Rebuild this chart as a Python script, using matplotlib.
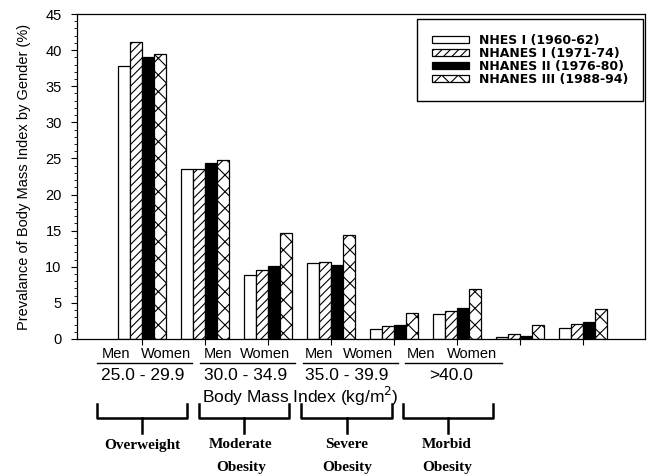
import numpy as np
import matplotlib
matplotlib.use("Agg")
import matplotlib.pyplot as plt
from matplotlib.lines import Line2D

# ---- data ----
genders = ["Men", "Women", "Men", "Women", "Men", "Women", "Men", "Women"]
bmi_ranges = ["25.0 - 29.9", "30.0 - 34.9", "35.0 - 39.9", ">40.0"]
categories = [("Overweight", ""), ("Moderate", "Obesity"), ("Severe", "Obesity"), ("Morbid", "Obesity")]
surveys = ["NHES I (1960-62)", "NHANES I (1971-74)", "NHANES II (1976-80)", "NHANES III (1988-94)"]
nhes1   = [37.8, 23.6,  8.8, 10.5, 1.4, 3.5, 0.3, 1.5]
nhanes1 = [41.1, 23.6,  9.6, 10.6, 1.8, 3.9, 0.7, 2.1]
nhanes2 = [39.1, 24.4, 10.1, 10.2, 2.0, 4.3, 0.4, 2.3]
nhanes3 = [39.5, 24.8, 14.7, 14.4, 3.6, 6.9, 1.9, 4.2]

W, H = 649, 475
plt.rcParams["font.family"] = ["Liberation Sans", "DejaVu Sans"]
plt.rcParams["hatch.linewidth"] = 0.8
fig = plt.figure(figsize=(W / 100, H / 100), dpi=100)
ax = fig.add_axes([77 / W, 1 - 339 / H, (645 - 77) / W, (339 - 14) / H])

x = np.arange(len(genders))
bw = 0.19
styles = [dict(color="white", hatch=None), dict(color="white", hatch="////"),
          dict(color="black", hatch=None), dict(color="white", hatch="xx")]
for i, (vals, st) in enumerate(zip([nhes1, nhanes1, nhanes2, nhanes3], styles)):
    ax.bar(x + (i - 1.5) * bw, vals, bw, facecolor=st["color"], hatch=st["hatch"],
           edgecolor="black", linewidth=0.9, label=surveys[i])

ax.set_xlim(-1.03, 7.98)
ax.set_ylim(0, 45)
ax.set_yticks(range(0, 46, 5))
ax.set_yticks(range(0, 46, 1), minor=True)
ax.set_xticks(x)
ax.set_xticklabels([])
ax.tick_params(axis="y", which="major", direction="out", length=4, labelsize=10.5, pad=7)
ax.tick_params(axis="y", which="minor", direction="out", length=2)
ax.tick_params(axis="x", direction="out", length=4)
for s in ax.spines.values():
    s.set_linewidth(0.9)
ax.set_ylabel("Prevalance of Body Mass Index by Gender (%)", fontsize=10.5, labelpad=10)

leg = ax.legend(loc="upper right", bbox_to_anchor=(0.9965, 0.985), borderaxespad=0,
                fancybox=False, edgecolor="black", framealpha=1, handlelength=3.0,
                handleheight=0.45, labelspacing=0.0, borderpad=1.2, handletextpad=0.75,
                prop={"family": "DejaVu Sans", "weight": "bold", "size": 9})
leg.get_frame().set_linewidth(1.0)

# ---- table of labels under the axis (figure pixel layout) ----
fx = lambda px: px / W
fy = lambda py: 1 - py / H
tf = fig.transFigure

men_c = [116, 218, 319, 421]
women_c = [166, 265, 368, 472]
line_span = [(97, 192), (200, 295), (303, 398), (405, 502)]
range_c = [143, 246, 347, 451]
brackets = [(97, 187), (199, 289), (301, 392), (403, 493)]
cat_c = [142, 241, 347, 447]

for k in range(4):
    fig.text(fx(men_c[k]), fy(354), genders[2 * k], ha="center", va="center", fontsize=10.5)
    fig.text(fx(women_c[k]), fy(354), genders[2 * k + 1], ha="center", va="center", fontsize=10.5)
    a, b = line_span[k]
    fig.add_artist(Line2D([fx(a), fx(b)], [fy(363), fy(363)], transform=tf, color="black", lw=1.0))
    fig.text(fx(range_c[k]), fy(376), bmi_ranges[k], ha="center", va="center", fontsize=12.5)
    a, b = brackets[k]
    fig.add_artist(Line2D([fx(a), fx(a), fx(b), fx(b)], [fy(404), fy(418), fy(418), fy(404)],
                          transform=tf, color="black", lw=1.8))
    c = (a + b) / 2
    fig.add_artist(Line2D([fx(c), fx(c)], [fy(418), fy(433)], transform=tf, color="black", lw=1.8))
    for line, yy in zip(categories[k], [445, 468]):
        fig.text(fx(cat_c[k]), fy(yy), line, ha="center", va="center", fontsize=11,
                 family="Liberation Serif", weight="bold")

fig.text(fx(300), fy(396), "Body Mass Index (kg/m$^2$)", ha="center", va="center", fontsize=12.5)

fig.savefig("out.png", dpi=100)
